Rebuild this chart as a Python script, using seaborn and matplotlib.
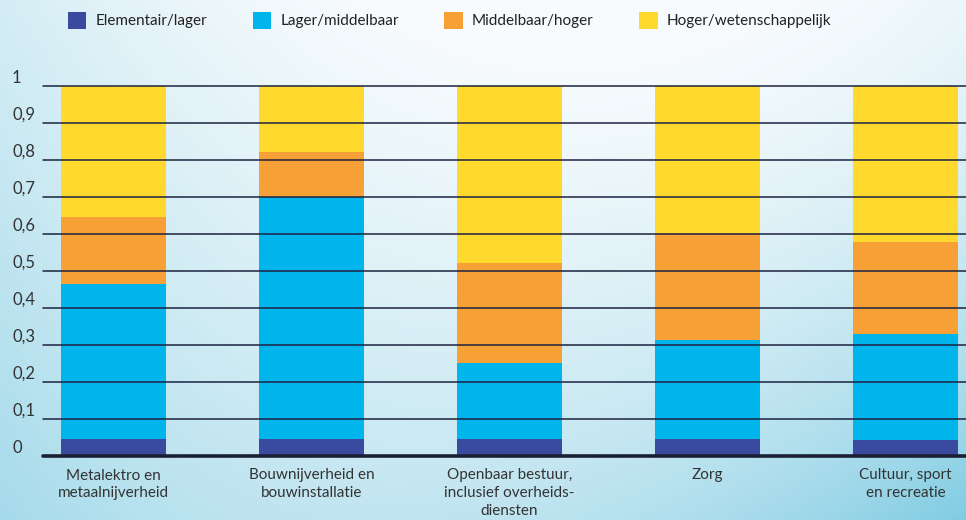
import numpy as np
import pandas as pd
import matplotlib
matplotlib.use("Agg")
import matplotlib.pyplot as plt
import matplotlib.transforms as mtransforms
from matplotlib.patches import Patch
import seaborn as sns

categories = ["Metalektro en\nmetaalnijverheid",
              "Bouwnijverheid en\nbouwinstallatie",
              "Openbaar bestuur,\ninclusief overheids-\ndiensten",
              "Zorg",
              "Cultuur, sport\nen recreatie"]
series_names = ["Elementair/lager", "Lager/middelbaar", "Middelbaar/hoger", "Hoger/wetenschappelijk"]
elementair = [0.046, 0.046, 0.046, 0.046, 0.043]
lager_middelbaar = [0.419, 0.654, 0.205, 0.268, 0.287]
middelbaar_hoger = [0.182, 0.122, 0.271, 0.289, 0.248]
hoger_wetenschappelijk = [0.353, 0.178, 0.478, 0.397, 0.422]
colors = ["#3a4a9f", "#00b4ec", "#f7a035", "#ffd92e"]
yticks = [0, 0.1, 0.2, 0.3, 0.4, 0.5, 0.6, 0.7, 0.8, 0.9, 1.0]
ytick_labels = ["0", "0,1", "0,2", "0,3", "0,4", "0,5", "0,6", "0,7", "0,8", "0,9", "1"]

sns.set_theme(style="white")
plt.rcParams["font.family"] = ["Lato", "DejaVu Sans"]

W, H = 966, 520
fig = plt.figure(figsize=(W / 100, H / 100), dpi=100)

# background gradient
bg = fig.add_axes([0, 0, 1, 1], zorder=0)
xx, yy = np.meshgrid(np.linspace(0, 1, W), np.linspace(0, 1, H))
t = 0.94 * (xx - 0.6) ** 2 - 0.05 + 0.34 * yy + 0.05 * yy ** 2 + 0.5 * xx ** 2 * yy ** 2
t = np.clip(t, 0, 1)[..., None]
c0 = np.array([247, 251, 253]) / 255
c1 = np.array([127, 203, 226]) / 255
img = c0 * (1 - t) + c1 * t
bg.imshow(img, aspect="auto", extent=[0, 1, 0, 1], origin="upper")
bg.set_axis_off()

left = 43 / W
bottom = 1 - 456 / H
top = 1 - 86 / H
ax = fig.add_axes([left, bottom, 1 - left, top - bottom], zorder=1)
ax.patch.set_alpha(0)

data = pd.DataFrame({
    "cat": categories,
    "e": elementair,
    "l": lager_middelbaar,
    "m": middelbaar_hoger,
    "h": hoger_wetenschappelijk,
})
cum = data[["e", "l", "m", "h"]].cumsum(axis=1)
for key, col in zip(["h", "m", "l", "e"], colors[::-1]):
    sns.barplot(x=data["cat"], y=cum[key], order=categories, color=col,
                saturation=1, width=0.53, ax=ax, linewidth=0, zorder=2)

ax.set_xlim(-0.356, 4.306)
ax.set_ylim(0, 1)
for s in ax.spines.values():
    s.set_visible(False)
for yv in yticks[1:]:
    ax.axhline(yv, color="#1c2340", lw=1.1, zorder=3, clip_on=False)
ax.axhline(0, color="#1a1f33", lw=2.6, zorder=3, clip_on=False)

ax.set_xlabel("")
ax.set_ylabel("")
ax.set_yticks(yticks)
ax.set_yticklabels(ytick_labels, fontsize=12, color="#333333")
ax.tick_params(axis="y", length=0, pad=22.3)
offset = mtransforms.ScaledTranslation(0, 2.5 / 72, fig.dpi_scale_trans)
for lab in ax.get_yticklabels():
    lab.set_horizontalalignment("left")
    lab.set_verticalalignment("baseline")
    lab.set_transform(lab.get_transform() + offset)
ax.set_xticks(range(len(categories)))
ax.set_xticklabels(categories, fontsize=11, color="#333333", linespacing=1.35)
ax.tick_params(axis="x", length=0, pad=9)

handles = [Patch(facecolor=c, edgecolor="none") for c in colors]
fig.legend(handles, series_names, loc="upper left", bbox_to_anchor=(54 / W, 1.0 + 2 / H),
           ncol=4, frameon=False, fontsize=11, handlelength=1.2, handleheight=1.35,
           handletextpad=0.62, columnspacing=2.97, labelcolor="#222222")

fig.savefig("out.png", dpi=100)
